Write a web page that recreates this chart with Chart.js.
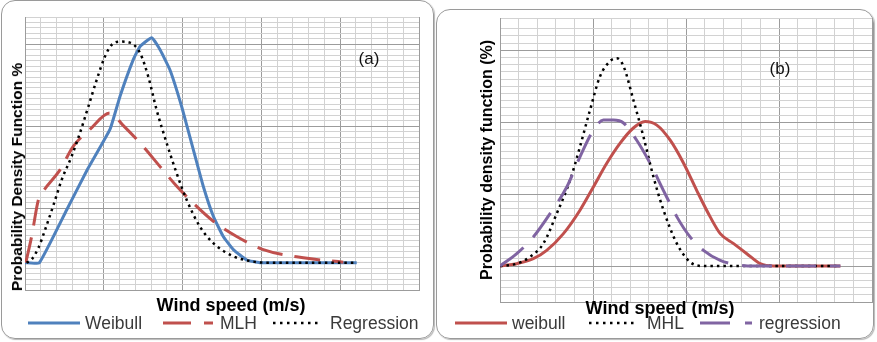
<!DOCTYPE html>
<html>
<head>
<meta charset="utf-8">
<script src="https://cdn.jsdelivr.net/npm/chart.js@4.4.1/dist/chart.umd.min.js"></script>
<style>
  body { margin: 0; width: 877px; height: 342px; background: #fff; overflow: hidden; position: relative;
         font-family: "Liberation Sans", Arial, sans-serif; }
  .panel { position: absolute; border: 1.5px solid #9a9a9a; border-radius: 14px; box-sizing: border-box;
           box-shadow: 1px 1px 1px #b8b8b8; }
  canvas { position: absolute; top: 0; }
  .t { position: absolute; white-space: nowrap; color: #000; }
  .ytitle { font-weight: bold; transform: translate(-50%, -50%) rotate(-90deg); }
  .xtitle { font-weight: bold; font-size: 18px; transform: translate(-50%, -50%); }
  .tag { font-size: 17px; transform: translate(-50%, -50%); color: #111; }
  .leg { font-size: 17.5px; color: #3a3a3a; transform: translateY(-50%); top: 323px; }
  svg { position: absolute; overflow: visible; }
</style>
</head>
<body>
<div class="panel" style="left:1px; top:0px; width:433px; height:339px;"></div>
<div class="panel" style="left:436px; top:9px; width:438px; height:330px;"></div>

<canvas id="chartA" width="435" height="342" style="left:0px;"></canvas>
<canvas id="chartB" width="440" height="342" style="left:437px;"></canvas>

<div class="t ytitle" style="left:17px; top:177px; font-size:15.5px;">Probability Density Function %</div>
<div class="t ytitle" style="left:487px; top:160px; font-size:16px;">Probability density function (%)</div>
<div class="t xtitle" style="left:231px; top:305px;">Wind speed (m/s)</div>
<div class="t xtitle" style="left:660px; top:308px;">Wind speed (m/s)</div>
<div class="t tag" style="left:369px; top:59px;">(a)</div>
<div class="t tag" style="left:780px; top:69px;">(b)</div>

<svg width="877" height="342" style="left:0; top:0;">
  <line x1="28" y1="323" x2="80" y2="323" stroke="#4F81BD" stroke-width="3"/>
  <line x1="163" y1="323" x2="213" y2="323" stroke="#C0504D" stroke-width="3" stroke-dasharray="28 13"/>
  <line x1="273" y1="323" x2="322" y2="323" stroke="#000" stroke-width="2.5" stroke-dasharray="2.5 4.5"/>
  <line x1="455" y1="323" x2="507" y2="323" stroke="#C0504D" stroke-width="3"/>
  <line x1="589" y1="323" x2="637" y2="323" stroke="#000" stroke-width="2.5" stroke-dasharray="2.5 4.5"/>
  <line x1="700" y1="323" x2="752" y2="323" stroke="#8064A2" stroke-width="3" stroke-dasharray="30 15"/>
</svg>
<div class="t leg" style="left:85px;">Weibull</div>
<div class="t leg" style="left:220px;">MLH</div>
<div class="t leg" style="left:330px;">Regression</div>
<div class="t leg" style="left:512px;">weibull</div>
<div class="t leg" style="left:647px;">MHL</div>
<div class="t leg" style="left:759px;">regression</div>

<script>
// panel (a): [wind speed grid step, pdf grid step]
const weibullA = [[0,0],[0.91,0],[2.65,9.7],[3.91,16.8],[5.39,24.4],[6.03,30.5],[6.87,37.2],[7.3,39.6],
  [8.04,41.2],[8.57,39.0],[9.2,35.3],[9.94,28.6],[10.68,20.7],[11.31,14.0],[11.95,8.5],[12.58,4.8],
  [13.22,2.4],[14.07,0.5],[14.9,0],[21.05,0]];
const mlhA = [[0.05,0],[0.42,4.8],[0.85,11.5],[1.16,13.1],[2.22,17.0],[3.06,21.3],[4.12,24.4],[5.39,27.4],
  [6.24,25.1],[7.4,21.6],[8.57,17.6],[9.63,14.0],[10.68,10.9],[11.95,7.6],[13.43,4.8],[15.12,2.4],
  [17.66,0.9],[20.2,0.1]];
const regressionA = [[0.1,0],[0.42,0.6],[0.85,2.7],[1.27,6.0],[1.8,10.5],[2.33,15.2],[2.96,19.5],[3.49,23.8],
  [4.02,28.6],[4.55,33.5],[5.08,37.8],[5.5,39.9],[6.03,40.5],[6.66,40.3],[7.3,38.4],[7.82,34.1],
  [8.35,28.0],[8.99,21.9],[9.62,16.4],[10.26,11.5],[11.1,6.6],[11.95,3.6],[13.2,1.2],[14.5,0.2],
  [15.3,0],[21.05,0]];

// panel (b)
const weibullB = [[0,0],[0.9,0.33],[1.79,1.02],[2.51,2.19],[3.41,4.51],[4.3,7.77],[5.02,11.0],[5.74,14.3],
  [6.46,17.1],[7.17,19.2],[7.8,20.1],[8.43,19.6],[9.15,17.5],[9.87,14.3],[10.58,10.5],[11.3,6.84],
  [11.84,4.51],[12.56,3.12],[13.27,1.72],[13.99,0.33],[14.71,0],[18.3,0]];
const mhlB = [[0,0],[0.9,0.33],[1.61,1.26],[2.33,3.12],[3.05,7.3],[3.77,11.95],[4.3,16.6],[4.84,21.7],
  [5.38,26.4],[5.92,28.5],[6.28,28.9],[6.64,27.8],[7.17,23.1],[7.71,18.0],[8.25,12.4],[8.79,7.77],
  [9.51,3.12],[10.22,0.56],[10.94,0],[18.1,0]];
const regressionB = [[0,0],[0.9,1.72],[1.79,4.05],[2.69,7.3],[3.59,11.0],[4.3,15.2],[5.02,18.9],[5.56,20.3],
  [6.1,20.3],[6.64,19.9],[7.35,17.5],[8.07,14.3],[8.79,10.5],[9.51,6.84],[10.22,4.05],[10.94,2.19],
  [11.84,0.79],[12.74,0.19],[13.63,0],[18.3,0]];

const MINOR = "#d2d2d2";
const MAJOR = "#9c9c9c";

function pts(arr) {
  return arr.map(([x, y]) => ({ x, y }));
}

function gridColor(every, offset) {
  return (c) => {
    const v = Math.round((c.tick ? c.tick.value : 0) - offset);
    return v % every === 0 ? MAJOR : MINOR;
  };
}

function serie(data, color, dash, width, order, suave) {
  const ds = {
    data: pts(data),
    borderColor: color,
    backgroundColor: color,
    borderWidth: width,
    borderDash: dash,
    showLine: true,
    pointRadius: 0,
    order: order,
  };
  if (suave) ds.cubicInterpolationMode = "monotone";
  else ds.tension = 0.12;
  return ds;
}

function escala(min, max, every, offset) {
  return {
    type: "linear",
    min: min,
    max: max,
    ticks: { display: false, stepSize: 1, maxTicksLimit: 1000 },
    grid: { color: gridColor(every, offset), drawTicks: false, lineWidth: 1 },
    border: { display: true, color: MAJOR },
  };
}

function opciones(padding, sx, sy) {
  return {
    responsive: false,
    animation: false,
    devicePixelRatio: 1,
    layout: { padding: padding },
    plugins: { legend: { display: false }, tooltip: { enabled: false } },
    scales: { x: sx, y: sy },
  };
}

new Chart(document.getElementById("chartA"), {
  type: "scatter",
  data: {
    datasets: [
      serie(weibullA, "#4F81BD", [], 3, 2, false),
      serie(mlhA, "#C0504D", [26, 12], 3, 1, true),
      serie(regressionA, "#000000", [2.5, 4], 2.5, 0, true),
    ],
  },
  options: opciones({ left: 25, top: 17, right: 16, bottom: 52 },
    escala(0, 25, 5, 0), escala(-5, 45, 15, -5)),
});

new Chart(document.getElementById("chartB"), {
  type: "scatter",
  data: {
    datasets: [
      serie(weibullB, "#C0504D", [], 3, 2, true),
      serie(mhlB, "#000000", [2.5, 4], 2.5, 1, true),
      serie(regressionB, "#8064A2", [30, 14], 3, 0, true),
    ],
  },
  options: opciones({ left: 63, top: 18, right: 5, bottom: 40 },
    escala(0, 20, 5, 0), escala(-5, 34.5, 10, 0)),
});
</script>
</body>
</html>
